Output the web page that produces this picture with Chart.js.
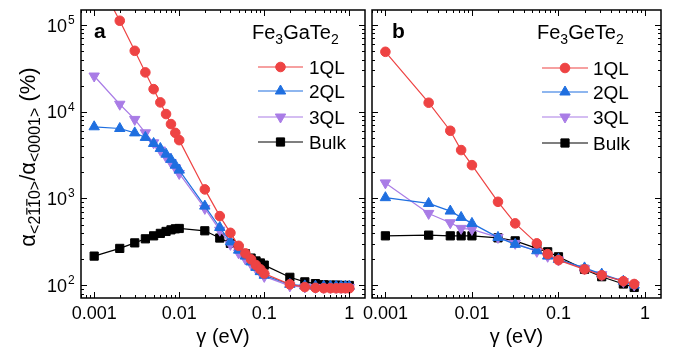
<!DOCTYPE html>
<html>
<head>
<meta charset="utf-8">
<script src="https://cdn.jsdelivr.net/npm/chart.js"></script>
<style>
  html, body { margin: 0; padding: 0; background: #fff; }
  #wrap { position: relative; width: 676px; height: 352px; overflow: hidden; }
  canvas { position: absolute; top: 0; }
  #chartA { left: 0; }
  #chartB { left: 330px; }
</style>
</head>
<body>
<div id="wrap">
  <canvas id="chartB" width="346" height="352"></canvas>
  <canvas id="chartA" width="372" height="352"></canvas>
</div>
<script>
// --- data ---
// panel a: Fe3GaTe2
const gammaA = [0.001, 0.002, 0.003, 0.004, 0.005, 0.006, 0.007, 0.008, 0.009,
                0.01, 0.02, 0.03, 0.04, 0.05, 0.06, 0.07, 0.08, 0.09,
                0.1, 0.2, 0.3, 0.4, 0.5, 0.6, 0.7, 0.8, 0.9, 1.0];
const gaQL1 = [400000, 112000, 50400, 28400, 18200, 12800, 9400, 7200, 5700,
               4700, 1270, 625, 401, 284, 232, 198, 170, 152,
               136, 102, 95, 93, 92, 92, 92, 92, 92, 92];
const gaQL2 = [6700, 6400, 5700, 5050, 4300, 3770, 3240, 2820, 2420,
               2120, 815, 462, 315, 253, 216, 185, 160, 143,
               130, 102, 98, 97, 97, 97, 97, 97, 97, 97];
const gaQL3 = [25800, 12200, 8150, 5710, 4380, 3610, 3020, 2600, 2250,
               1940, 767, 430, 295, 235, 200, 175, 155, 140,
               126, 98, 95, 94, 94, 94, 94, 94, 94, 94];
const gaBulk = [216, 265, 307, 342, 370, 395, 416, 434, 446,
                450, 423, 349, 303, 265, 230, 205, 190, 180,
                170, 123, 109, 104, 101, 100, 100, 99, 99, 99];

// panel b: Fe3GeTe2
const gammaB = [0.001, 0.00316, 0.00562, 0.0075, 0.01, 0.02, 0.0316,
                0.0562, 0.075, 0.1, 0.2, 0.316, 0.562, 0.75];
const geQL1 = [49100, 12700, 6030, 3610, 2420, 914, 515, 303, 228, 194, 152, 130, 111, 103];
const geQL2 = [1020, 875, 714, 604, 515, 355, 295, 249, 216, 198, 158, 134, 111, 100];
const geQL3 = [1510, 671, 524, 451, 439, 355, 303, 245, 215, 195, 155, 132, 110, 100];
const geBulk = [370, 377, 370, 370, 370, 351, 324, 265, 242, 212, 152, 125, 103, 94];

const seriesNames = ['1QL', '2QL', '3QL', 'Bulk'];
const xTickVals = [0.001, 0.01, 0.1, 1];
const xTickLabels = ['0.001', '0.01', '0.1', '1'];
const yTickExps = [2, 3, 4, 5];

const FONT = '"Liberation Sans", Arial, Helvetica, sans-serif';

const styles = [
    { color: '#ee4343', pointStyle: 'circle', radius: 4.8, rotation: 0 },
    { color: '#1f6fe0', pointStyle: 'triangle', radius: 6, rotation: 0 },
    { color: '#a97ce6', pointStyle: 'triangle', radius: 6, rotation: 180 },
    { color: '#000000', pointStyle: 'rect', radius: 5.8, rotation: 0 }
];

// log tick positions (1..9 per decade)
function logTicks(min, max) {
    const out = [];
    for (let d = Math.floor(Math.log10(min)); d <= Math.ceil(Math.log10(max)); d++) {
        for (let m = 1; m <= 9; m++) {
            const v = m * Math.pow(10, d);
            if (v >= min && v <= max) out.push({ v: v, major: m === 1 });
        }
    }
    return out;
}

function marker(ctx, s, x, y) {
    ctx.fillStyle = s.color;
    ctx.strokeStyle = s.color;
    ctx.lineWidth = 1;
    if (Chart.helpers && Chart.helpers.drawPoint) {
        Chart.helpers.drawPoint(ctx, { pointStyle: s.pointStyle, radius: s.radius, rotation: s.rotation, borderWidth: 1 }, x, y);
    } else {
        ctx.beginPath();
        ctx.arc(x, y, s.radius, 0, Math.PI * 2);
        ctx.fill();
    }
}

// write text made of pieces (main / sub), returns end x
function pieces(ctx, parts, x, y, measureOnly) {
    let cx = x;
    parts.forEach(p => {
        ctx.font = p.size + 'px ' + FONT;
        const w = ctx.measureText(p.t).width;
        if (!measureOnly) {
            ctx.fillText(p.t, cx, y + (p.dy || 0));
            if (p.bar) {
                // overbar on each char
                let bx = cx;
                for (const ch of p.t) {
                    const cw = ctx.measureText(ch).width;
                    ctx.fillRect(bx + 1, y + p.dy - p.size * 0.86, cw - 2, 1.2);
                    bx += cw;
                }
            }
        }
        cx += w;
    });
    return cx;
}

const framePlugin = {
    id: 'frame',
    afterDraw(chart, args, o) {
        const ctx = chart.ctx;
        const a = chart.chartArea;
        const xs = chart.scales.x, ys = chart.scales.y;
        const off = o.offset;
        ctx.save();

        // frame
        ctx.strokeStyle = '#000';
        ctx.lineWidth = 1.5;
        ctx.strokeRect(a.left, a.top, a.right - a.left, a.bottom - a.top);

        // inward ticks on all sides
        ctx.lineWidth = 1;
        ctx.beginPath();
        logTicks(xs.min, xs.max).forEach(t => {
            const px = Math.round(xs.getPixelForValue(t.v)) + 0.5;
            const len = t.major ? 6 : 3;
            ctx.moveTo(px, a.bottom); ctx.lineTo(px, a.bottom - len);
            ctx.moveTo(px, a.top); ctx.lineTo(px, a.top + len);
        });
        logTicks(ys.min, ys.max).forEach(t => {
            const py = Math.round(ys.getPixelForValue(t.v)) + 0.5;
            const len = t.major ? 6 : 3;
            ctx.moveTo(a.left, py); ctx.lineTo(a.left + len, py);
            ctx.moveTo(a.right, py); ctx.lineTo(a.right - len, py);
        });
        ctx.stroke();

        ctx.fillStyle = '#000';
        ctx.textBaseline = 'alphabetic';

        // y tick labels 10^n
        if (o.yLabels) {
            yTickExps.forEach(e => {
                const py = ys.getPixelForValue(Math.pow(10, e));
                ctx.font = '18px ' + FONT;
                ctx.textAlign = 'right';
                ctx.fillText('10', 67, py + 6.5);
                ctx.font = '12px ' + FONT;
                ctx.textAlign = 'left';
                ctx.fillText(String(e), 68, py - 1);
            });
        }

        // y title, rotated
        if (o.yTitle) {
            const parts = [
                { t: 'α', size: 22 },
                { t: '<2', size: 16, dy: 5 },
                { t: '11', size: 16, dy: 5, bar: true },
                { t: '0>', size: 16, dy: 5 },
                { t: '/', size: 22 },
                { t: 'α', size: 22 },
                { t: '<0001>', size: 16, dy: 5 },
                { t: ' (%)', size: 22 }
            ];
            ctx.save();
            ctx.translate(35, 157);
            ctx.rotate(-Math.PI / 2);
            ctx.textAlign = 'left';
            const w = pieces(ctx, parts, 0, 0, true);
            pieces(ctx, parts, -w / 2, 0, false);
            ctx.restore();
        }

        // panel letter
        ctx.textAlign = 'left';
        ctx.font = 'bold 21px ' + FONT;
        ctx.fillText(o.letter, o.letterX - off, 38);

        // compound name
        pieces(ctx, [
            { t: 'Fe', size: 20 },
            { t: '3', size: 14, dy: 5 },
            { t: o.formula, size: 20 },
            { t: '2', size: 14, dy: 5 }
        ], o.nameX - off, 39, false);

        // legend
        seriesNames.forEach((name, i) => {
            const s = styles[i];
            const y = o.legendY[i];
            const x0 = o.lineX[0] - off, x1 = o.lineX[1] - off;
            ctx.strokeStyle = s.color;
            ctx.lineWidth = 1.2;
            ctx.beginPath();
            ctx.moveTo(x0, y); ctx.lineTo(x1, y);
            ctx.stroke();
            marker(ctx, s, (x0 + x1) / 2, y);
            ctx.fillStyle = '#000';
            ctx.font = '19px ' + FONT;
            ctx.textAlign = 'left';
            ctx.fillText(name, o.textX - off, y + 7);
        });

        ctx.restore();
    }
};

function makeDatasets(gamma, lists) {
    return lists.map((vals, i) => ({
        label: seriesNames[i],
        data: gamma.map((g, k) => ({ x: g, y: vals[k] })),
        borderColor: styles[i].color,
        backgroundColor: styles[i].color,
        borderWidth: 1.2,
        pointStyle: styles[i].pointStyle,
        pointRotation: styles[i].rotation,
        pointRadius: styles[i].radius,
        pointBorderWidth: 1,
        pointBackgroundColor: styles[i].color,
        pointBorderColor: styles[i].color,
        tension: 0
    }));
}

function drawChart(canvasId, datasets, padding, frameOpts) {
    const canvas = document.getElementById(canvasId);
    return new Chart(canvas, {
        type: 'line',
        data: { datasets: datasets },
        options: {
            responsive: false,
            animation: false,
            events: [],
            layout: { padding: padding },
            plugins: {
                legend: { display: false },
                tooltip: { enabled: false },
                frame: frameOpts
            },
            scales: {
                x: {
                    type: 'logarithmic',
                    min: 0.0007,
                    max: 1.53,
                    grid: { display: false, drawTicks: false },
                    border: { display: false },
                    afterBuildTicks: (scale) => {
                        scale.ticks = xTickVals.map(v => ({ value: v }));
                    },
                    afterFit: (scale) => { scale.height = 54; },
                    ticks: {
                        maxRotation: 0,
                        autoSkip: false,
                        padding: 5,
                        color: '#000',
                        font: { family: FONT, size: 18 },
                        callback: (v, i) => xTickLabels[i]
                    },
                    title: {
                        display: true,
                        text: 'γ (eV)',
                        color: '#000',
                        font: { family: FONT, size: 20 },
                        padding: { top: 0, bottom: 3 }
                    }
                },
                y: {
                    type: 'logarithmic',
                    display: false,
                    min: 71,
                    max: 149000
                }
            }
        },
        plugins: [framePlugin]
    });
}

drawChart('chartA', makeDatasets(gammaA, [gaQL1, gaQL2, gaQL3, gaBulk]),
    { left: 81, right: 1, top: 10, bottom: 0 },
    { offset: 0, yLabels: true, yTitle: true, letter: 'a', letterX: 94,
      formula: 'GaTe', nameX: 252, lineX: [258, 303], textX: 309,
      legendY: [67, 91, 117, 142] });

drawChart('chartB', makeDatasets(gammaB, [geQL1, geQL2, geQL3, geBulk]),
    { left: 42, right: 15, top: 10, bottom: 0 },
    { offset: 330, yLabels: false, yTitle: false, letter: 'b', letterX: 392,
      formula: 'GeTe', nameX: 537, lineX: [542, 588], textX: 593,
      legendY: [68, 92, 117, 143] });
</script>
</body>
</html>
